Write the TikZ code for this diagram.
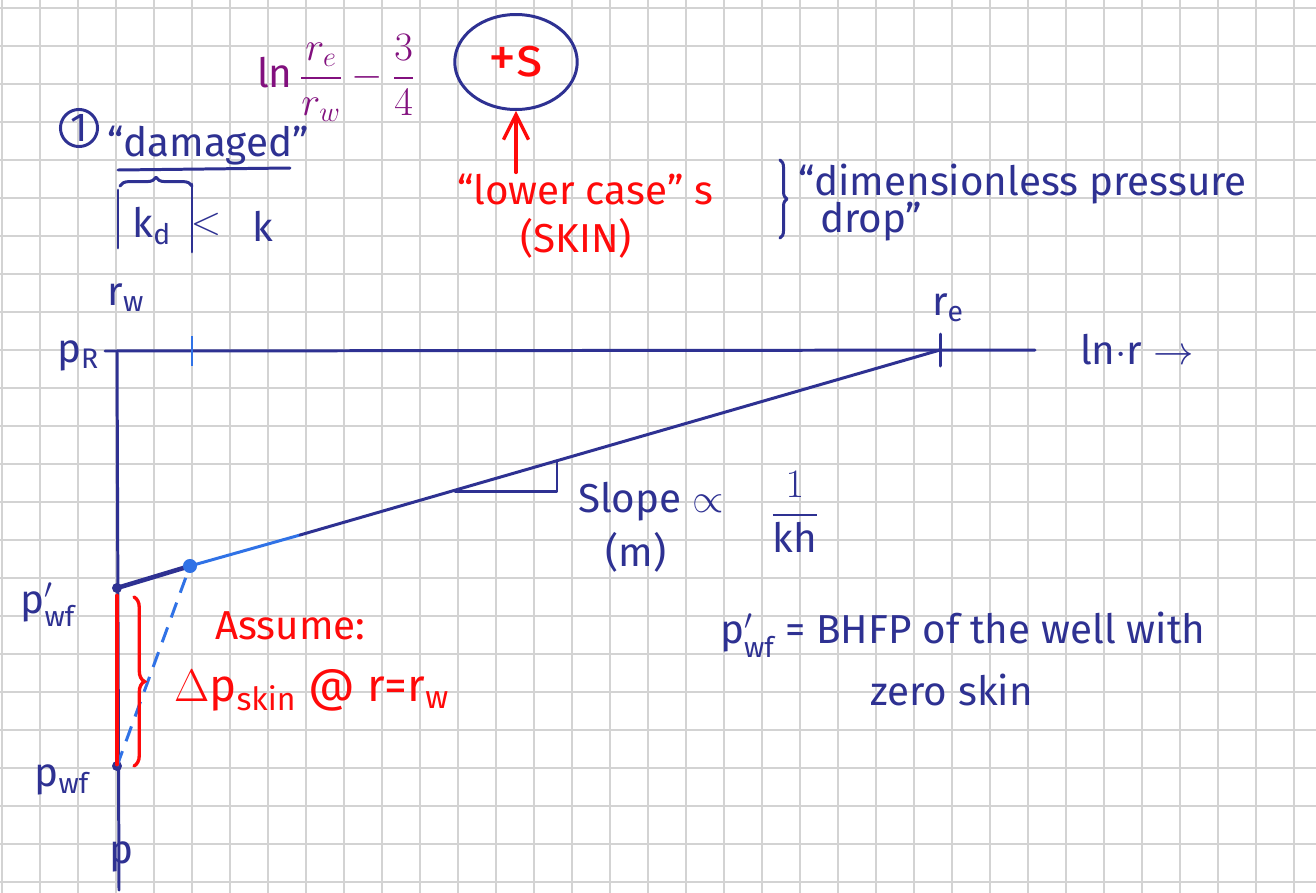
\RequirePackage{fix-cm}
\documentclass[tikz,border=0pt]{standalone}
\usepackage{amsmath}
\usepackage{fontspec}
\setmainfont{Fira Sans}
\usepackage{tikz}
\usetikzlibrary{arrows.meta, positioning, shapes.geometric, decorations.pathreplacing}
\definecolor{ink}{HTML}{2E3192}
\definecolor{pale}{HTML}{3072E6}
\definecolor{pen}{HTML}{FF0A0A}
\definecolor{plum}{HTML}{82107E}
\definecolor{paper}{HTML}{D3D3D3}

\begin{document}
\begin{tikzpicture}[
  x=0.02cm, y=-0.02cm,
  gridline/.style={draw=paper, line width=1.1pt},
  stroke/.style={draw=ink, line width=1.7pt, line cap=round, line join=round},
  redstroke/.style={draw=pen, line width=1.9pt, line cap=round},
  txt/.style={text=ink, font=\fontsize{23}{27}\selectfont, inner sep=1pt},
  redtxt/.style={text=pen, font=\fontsize{23}{27}\selectfont, inner sep=1pt},
  dot/.style={circle, fill=ink, inner sep=0pt, minimum size=0.2cm},
  bracket/.style={decorate, decoration={brace, amplitude=#1}},
  arrow/.style={redstroke, -{Straight Barb[length=5mm, width=5mm]}}
]

\fill[white] (0,0) rectangle (1316,893);
\useasboundingbox (0,0) rectangle (1316,893);
\foreach \gx in {2,40,...,1316} \draw[gridline] (\gx,0) -- (\gx,893);
\foreach \gy in {8,46,...,893} \draw[gridline] (0,\gy) -- (1316,\gy);

\node[text=plum, inner sep=0pt, font=\fontsize{23}{27}\selectfont] (lnterm) at (336,78) {$\ln\dfrac{r_e}{r_w}-\dfrac{3}{4}$};
\node[ellipse, draw=ink, line width=1.7pt, minimum width=2.45cm, minimum height=1.9cm,
      text=pen, font=\fontsize{32}{36}\selectfont] (skin) at (516,62) {+s};
\node[redtxt] (lower) at (585,190) {“lower case” s};
\node[redtxt] (skinword) at (576,238) {(SKIN)};
\draw[arrow] (lower.north -| skin.south) -- (skin.south);

\draw[stroke, bracket=4pt] (780,160) -- (780,238);
\node[txt, anchor=west] (dimless) at (796,184) {“dimensionless pressure};
\node[txt, anchor=west] (drop) at (818,222) {drop”};

\node[txt, circle, draw=ink, line width=1.7pt, inner sep=1pt, minimum size=0.68cm] (one) at (79,128) {1};
\node[txt] (damaged) at (208,146) {“damaged”};
\draw[stroke] (118,170) -- (290,168);
\draw[stroke] (118,190) -- (118,248);
\draw[stroke] (192,184) -- (192,252);
\draw[stroke, bracket=5pt] (120,186) -- (192,186);
\node[txt] (kd) at (152,226) {k$_\text{d}$};
\node[txt] (lt) at (206,224) {$<$};
\node[txt] (k) at (263,226) {k};

\node[txt] (rw) at (126,298) {r$_\text{w}$};
\node[txt] (pr) at (78,356) {p$_\text{R}$};
\coordinate (origin) at (117,351);
\coordinate (axend) at (1035,350);
\coordinate (pend) at (119,890);
\coordinate (re) at (940,350);
\draw[stroke] (105,351) -- (axend);
\draw[stroke] (origin) -- (pend);
\draw[draw=pale, line width=1.7pt] (192,336) -- (192,366);
\draw[stroke] (940,334) -- (940,366);
\node[txt] (relabel) at (948,308) {r$_\text{e}$};
\node[txt, anchor=west] (lnr) at (1078,350) {ln$\cdot$r $\rightarrow$};

\node[dot] (pwfp) at (117,588) {};
\node[dot] (pwf) at (117,766) {};
\coordinate (kink) at (190,566);
\coordinate (fade) at (300,535);
\draw[stroke, line width=2.6pt] (pwfp.center) -- (kink);
\draw[draw=pale, line width=1.7pt] (kink) -- (fade);
\draw[stroke] (fade) -- (re);
\fill[pale] (kink) circle (4pt);
\draw[draw=pale, line width=1.7pt, dash pattern=on 9pt off 6pt] (pwf.center) -- (kink);

\draw[redstroke, line width=2.8pt] (117,596) -- (117,764);
\draw[redstroke, bracket=6pt] (134,597) -- (134,766);

\node[txt] (pwfplabel) at (48,605) {p$'_\text{wf}$};
\node[txt] (pwflabel) at (62,780) {p$_\text{wf}$};
\node[txt] (plabel) at (122,857) {p};

\node[redtxt, anchor=west] (assume) at (213,626) {Assume:};
\node[redtxt, anchor=west, font=\fontsize{26}{30}\selectfont] (dpskin) at (172,690) {$\Delta$p$_\text{skin}$ @ r=r$_\text{w}$};

\draw[stroke] (455,491) -- (557,491) -- (557,461);
\node[txt, anchor=west] (slope) at (576,502) {Slope $\propto$};
\node[txt] (frac) at (795,512) {$\dfrac{1}{\text{kh}}$};
\node[txt] (m) at (636,552) {(m)};

\node[txt, anchor=west] (def) at (718,635) {p$'_\text{wf}$ = BHFP of the well with};
\node[txt, anchor=west] (zero) at (868,690) {zero skin};

\end{tikzpicture}
\end{document}
